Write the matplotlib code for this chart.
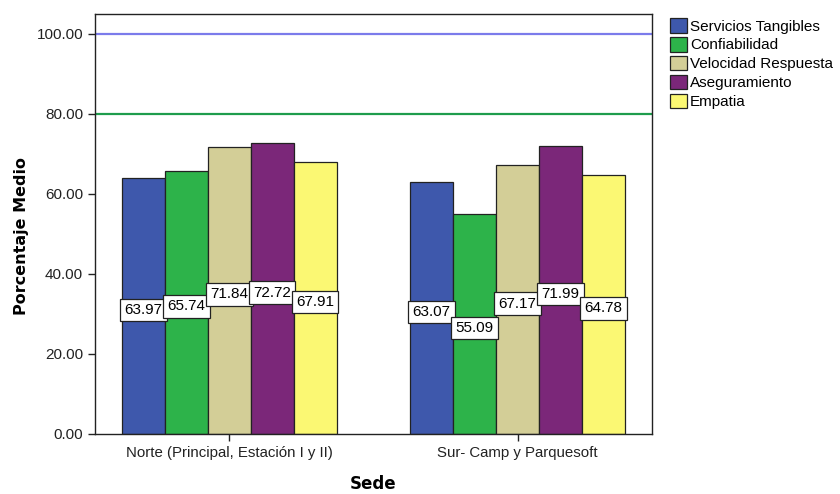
import numpy as np
import matplotlib
matplotlib.use("Agg")
import matplotlib.pyplot as plt

plt.rcParams['font.family'] = ['Liberation Sans', 'DejaVu Sans']

sedes = ["Norte (Principal, Estación I y II)", "Sur- Camp y Parquesoft"]
dimensiones = ["Servicios Tangibles", "Confiabilidad", "Velocidad Respuesta",
               "Aseguramiento", "Empatia"]
valores = {
    "Servicios Tangibles": [63.97, 63.07],
    "Confiabilidad": [65.74, 55.09],
    "Velocidad Respuesta": [71.84, 67.17],
    "Aseguramiento": [72.72, 71.99],
    "Empatia": [67.91, 64.78],
}
colores = ["#3E58AC", "#2DB34A", "#D3CE97", "#7B2779", "#FBF873"]
lineas_ref = [100, 80]
colores_ref = ["#7B7BEB", "#1E9C4C"]

fig = plt.figure(figsize=(8.4, 4.94), dpi=100)
ax = fig.add_axes([0.113, 0.1215, 0.663, 0.8502])

x = np.arange(len(sedes))
ancho = 0.149
for i, (dim, color) in enumerate(zip(dimensiones, colores)):
    pos = x + (i - 2) * ancho
    ax.bar(pos, valores[dim], width=ancho, color=color, edgecolor="#222222",
           linewidth=0.9, label=dim, zorder=2)
    # etiqueta del valor a media altura de la barra
    for p, v in zip(pos, valores[dim]):
        ax.text(p, v / 2 - 1, f"{v:.2f}", ha="center", va="center", fontsize=11,
                zorder=4,
                bbox=dict(boxstyle="square,pad=0.28", fc="white", ec="#222222", lw=0.9))

for y, c in zip(lineas_ref, colores_ref):
    ax.axhline(y, color=c, linewidth=1.6, zorder=1)

ax.set_xlim(-0.466, 1.466)
ax.set_ylim(0, 105)
ax.set_yticks(np.arange(0, 101, 20))
ax.set_yticklabels([f"{t:.2f}" for t in np.arange(0, 101, 20)], fontsize=11)
ax.set_xticks(x)
ax.set_xticklabels(sedes, fontsize=10.8)
ax.tick_params(axis="both", direction="out", length=5, width=1, colors="#222222")
for s in ax.spines.values():
    s.set_color("#222222")
    s.set_linewidth(1)

ax.set_ylabel("Porcentaje Medio", fontsize=11.5, fontweight="bold",
              family="DejaVu Sans", va="center")
ax.yaxis.set_label_coords(-0.131, 0.471)
ax.set_xlabel("Sede", fontsize=12, fontweight="bold", family="DejaVu Sans",
              va="center")
ax.xaxis.set_label_coords(0.5, -0.12)

leg = ax.legend(loc="upper left", bbox_to_anchor=(1.022, 1.005), frameon=False,
                fontsize=11, handlelength=1.1, handleheight=1.1,
                handletextpad=0.2, labelspacing=0.22, borderaxespad=0)

fig.savefig("out.png", dpi=100)
